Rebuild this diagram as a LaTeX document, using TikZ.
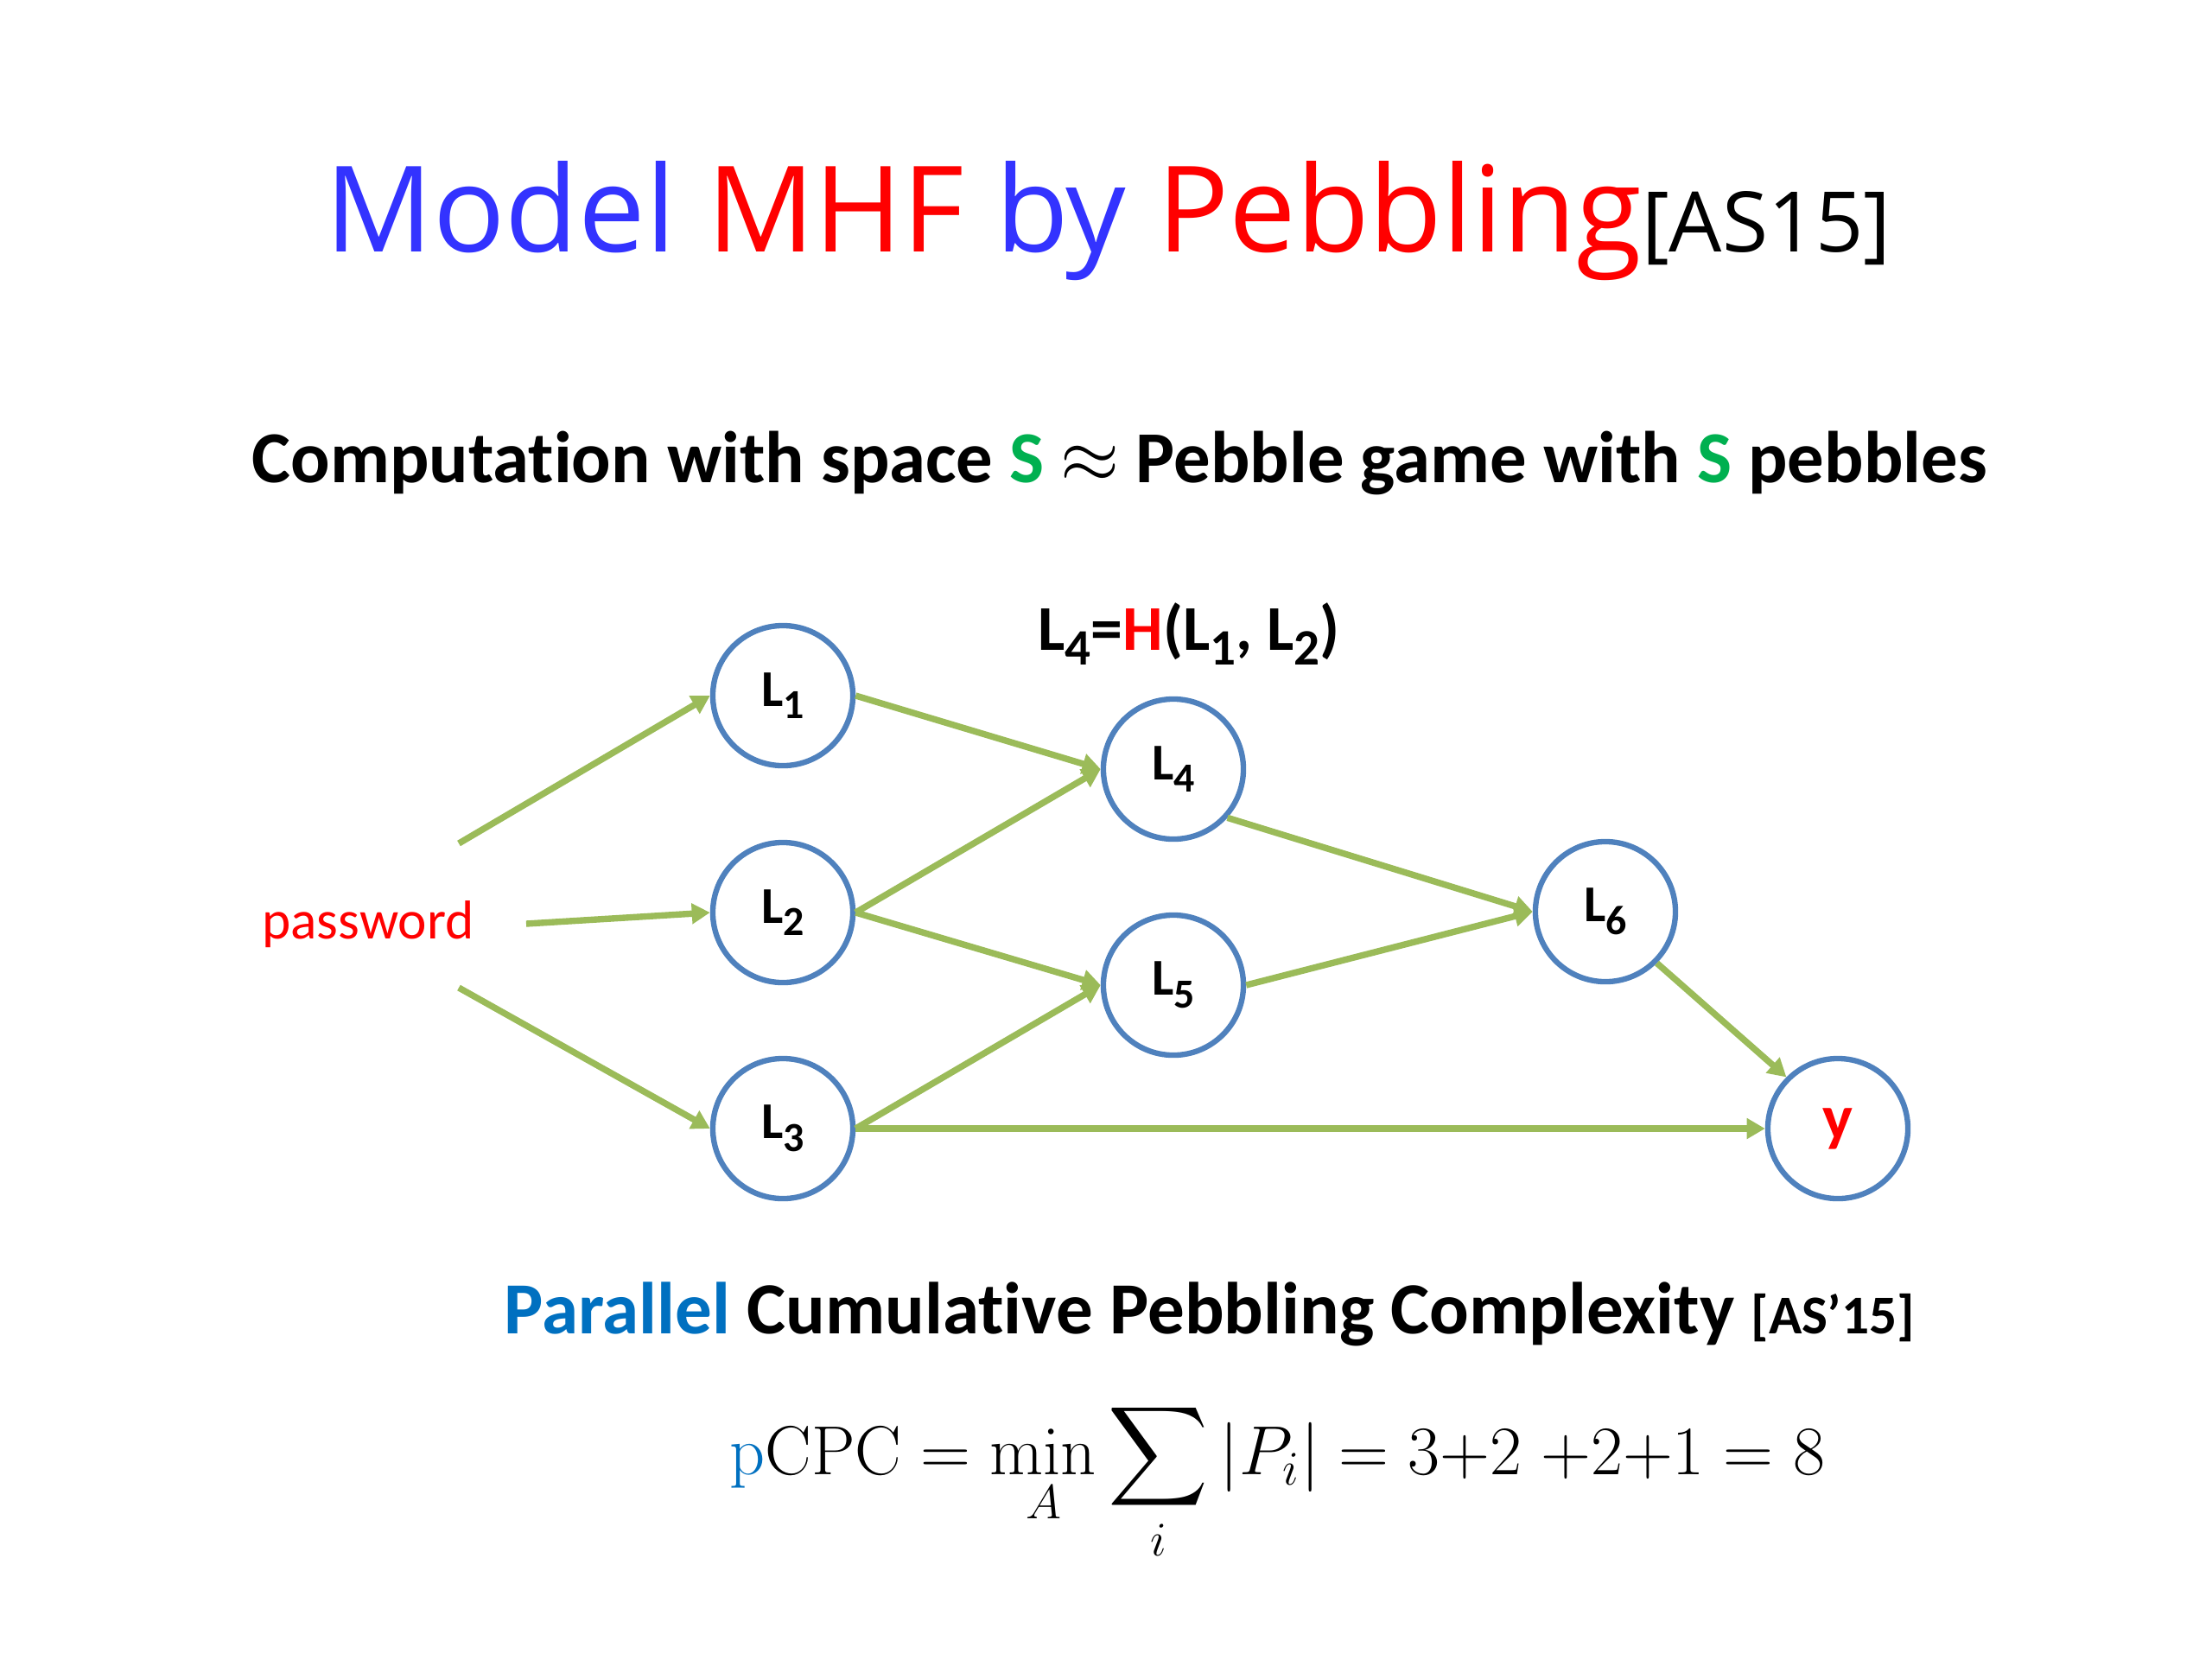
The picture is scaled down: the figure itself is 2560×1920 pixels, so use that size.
\documentclass[tikz,border=0pt]{standalone}
\usepackage{exscale}
\usepackage[no-math]{fontspec}
\setmainfont{Carlito}[Ligatures={NoCommon}]
\newfontfamily\titlefont{Open Sans}
\usetikzlibrary{arrows.meta}
\definecolor{tblue}{HTML}{3333FF}
\definecolor{tred}{HTML}{FF0000}
\definecolor{sgreen}{HTML}{00B050}
\definecolor{nblue}{HTML}{4F81BD}
\definecolor{agreen}{HTML}{9BBB59}
\definecolor{pblue}{HTML}{0070C0}
\newcommand{\Lsub}[2]{#1\raisebox{-0.5ex}{\scalebox{0.8}{#2}}}
\begin{document}
\begin{tikzpicture}[x=0.01cm,y=-0.01cm,
  pnode/.style={circle,draw=nblue,line width=1.8pt,minimum size=1.62cm,inner sep=0pt,
    font=\fontsize{17}{20}\selectfont\bfseries},
  arr/.style={draw=agreen,line width=2.1pt,-{Triangle[length=6pt,width=6.5pt]}},
  txt/.style={inner sep=0pt,anchor=base west}]
\useasboundingbox (0,0) rectangle (2560,1920);
\fill[white] (0,0) rectangle (2560,1920);

\node[txt] (title) at (376,291) {\titlefont\fontsize{39.3}{47}\selectfont\textcolor{tblue}{Model} \textcolor{tred}{MHF} \textcolor{tblue}{by} \textcolor{tred}{Pebbling}{\fontsize{27.5}{32}\selectfont[AS15]}};

\node[txt] (sub) at (291,558) {\fontsize{24.1}{30}\selectfont\bfseries Computation with space \textcolor{sgreen}{S} $\approx$ Pebble game with \textcolor{sgreen}{S} pebbles};

\node[pnode] (L1) at (906,805) {\Lsub{L}{1}};
\node[pnode] (L2) at (906,1056) {\Lsub{L}{2}};
\node[pnode] (L3) at (906,1306) {\Lsub{L}{3}};
\node[pnode] (L4) at (1358,890) {\Lsub{L}{4}};
\node[pnode] (L5) at (1358,1140) {\Lsub{L}{5}};
\node[pnode] (L6) at (1858,1055) {\Lsub{L}{6}};
\node[pnode,font=\fontsize{21}{24}\selectfont\bfseries] (Y) at (2127,1306) {\textcolor{tred}{y}};

\node[inner sep=0pt,anchor=base] (lab) at (1376,752) {\fontsize{21}{25}\selectfont\bfseries \Lsub{L}{4}=\textcolor{tred}{H}(\Lsub{L}{1}, \Lsub{L}{2})};

\node[inner sep=0pt,anchor=base] (pw) at (426,1086) {\fontsize{18}{22}\selectfont\textcolor{tred}{password}};
\coordinate (pw1) at (531,976);
\coordinate (pw2) at (609,1069);
\coordinate (pw3) at (531,1143);

\draw[arr] (pw1) -- (L1.west);
\draw[arr] (pw2) -- (L2.west);
\draw[arr] (pw3) -- (L3.west);
\draw[arr] (L1.east) -- (L4.west);
\draw[arr] (L2.east) -- (L4.west);
\draw[arr] (L2.east) -- (L5.west);
\draw[arr] (L3.east) -- (L5.west);
\draw[arr] (L3.east) -- (Y.west);
\draw[arr] (L4.-42) -- (L6.west);
\draw[arr] (L5.east) -- (L6.west);
\draw[arr] (L6.south east) -- (Y.north west);

\node[txt] (pcpc) at (583,1543) {\fontsize{24.2}{30}\selectfont\bfseries\textcolor{pblue}{Parallel} Cumulative Pebbling Complexity {\fontsize{18}{22}\selectfont [AS’15]}};

\node[txt] (form) at (844,1706) {\resizebox{12.67cm}{!}{\fontsize{24}{28}\selectfont$\displaystyle \textcolor{pblue}{\mathrm{p}}\mathrm{CPC}=\min_{A}\sum_{i}|P_i|=3{+}2\;{+}2{+}1=8$}};
\end{tikzpicture}
\end{document}
